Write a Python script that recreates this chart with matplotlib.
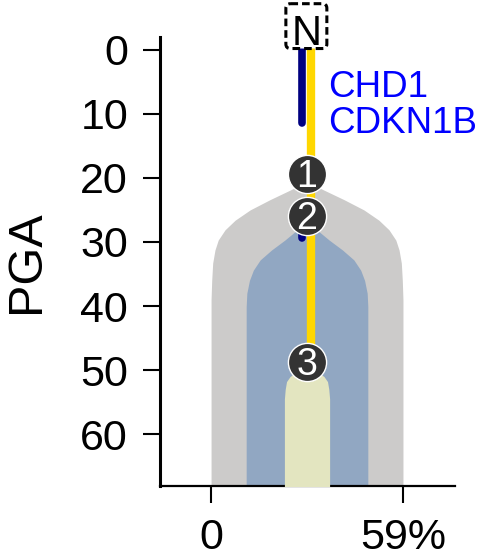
import matplotlib
matplotlib.use('Agg')
import matplotlib.pyplot as plt
from matplotlib.patches import FancyBboxPatch

plt.rcParams['font.family'] = ['Liberation Sans', 'DejaVu Sans']

# ---- data ----
x_ticks = [0, 59]
x_tick_labels = ['0', '59%']
y_ticks = [0, 10, 20, 30, 40, 50, 60]

clone_center = 29.5
# clone 1 (gray) outline: PGA vs half-width
gray_pga = [20.6, 21.9, 23.4, 25.0, 26.6, 28.1, 29.7, 31.25, 33.3, 36.0, 39.0, 69]
gray_hw = [0.0, 5.2, 11.4, 17.5, 22.1, 25.2, 27.3, 28.3, 29.0, 29.3, 29.5, 29.5]
# clone 2 (blue)
blue_pga = [26.8, 28.1, 29.7, 31.25, 32.8, 34.4, 36.0, 38.0, 40.1, 69]
blue_hw = [0.0, 3.0, 6.8, 10.9, 14.4, 16.5, 17.7, 18.5, 18.7, 18.7]
# clone 3 (pale yellow)
yel_pga = [49.5, 50.5, 51.0, 51.8, 53.0, 54.5, 69]
yel_hw = [0.0, 3.8, 5.2, 6.3, 6.7, 6.95, 6.95]

node_pga = [19.4, 25.9, 48.7]
node_labels = ['1', '2', '3']

trunk_x = 30.7
trunk_pga = [-1.0, 48.7]
navy_x = 28.0
navy_seg1 = [-1.0, 11.4]
navy_seg2 = [26.0, 29.4]

gene_labels = ['CHD1', 'CDKN1B']
gene_pga = [5.3, 11.0]

fig = plt.figure(figsize=(4.9, 5.57), dpi=100)
ax = fig.add_axes([160/490, 71/557, 295/490, 449/557])

shapes = [(gray_pga, gray_hw, '#CCCBCA'), (blue_pga, blue_hw, '#91A7C2'),
          (yel_pga, yel_hw, '#E3E5C0')]
for i, (p, hw, col) in enumerate(shapes):
    ax.fill_betweenx(p, [clone_center - h for h in hw], [clone_center + h for h in hw],
                     color=col, lw=0, zorder=1 + i)

ax.plot([trunk_x, trunk_x], trunk_pga, color='#FFD700', lw=6, solid_capstyle='butt', zorder=5)
ax.plot([navy_x, navy_x], navy_seg1, color='#000080', lw=5.5, solid_capstyle='round', zorder=5)
ax.plot([navy_x, navy_x], navy_seg2, color='#000080', lw=5.5, solid_capstyle='round', zorder=5)

ax.scatter([clone_center] * len(node_pga), node_pga, s=27.5**2, c='#333333',
           edgecolors='white', linewidths=1, zorder=6)
for p, lab in zip(node_pga, node_labels):
    ax.annotate(lab, (clone_center, p), xytext=(0, -0.358 * 27), textcoords='offset points',
                ha='center', va='baseline', fontsize=27, color='white', zorder=7)

# N box
box = FancyBboxPatch((23.0, -7.2), 12.6, 7.0,
                     boxstyle='round,pad=0,rounding_size=1.4', mutation_aspect=0.5,
                     fc='white', ec='black', lw=2.2, ls=(0, (2.5, 1.3)),
                     zorder=8, clip_on=False, transform=ax.transData)
ax.add_patch(box)
ax.annotate('N', (29.3, -3.1), xytext=(0, -0.358 * 30), textcoords='offset points',
            ha='center', va='baseline', fontsize=30, color='black', zorder=9,
            annotation_clip=False)

for g, p in zip(gene_labels, gene_pga):
    ax.annotate(g, (36.0, p), xytext=(0, -0.358 * 26.5), textcoords='offset points',
                ha='left', va='baseline', fontsize=26.5, color='#0000FF', zorder=9)

ax.set_xlim(-15.7, 75)
ax.set_ylim(68.1, -2)
ax.set_xticks(x_ticks)
ax.set_xticklabels(x_tick_labels)
ax.set_yticks(y_ticks)
ax.tick_params(labelsize=31, length=12, width=1.5, pad=11, color='black')
for s in ['top', 'right']:
    ax.spines[s].set_visible(False)
ax.spines['left'].set_linewidth(2.2)
ax.spines['bottom'].set_linewidth(1.6)
ax.set_ylabel('PGA', fontsize=35)
ax.yaxis.set_label_coords(-0.377, 0.5)

fig.savefig('out.png', dpi=100)
